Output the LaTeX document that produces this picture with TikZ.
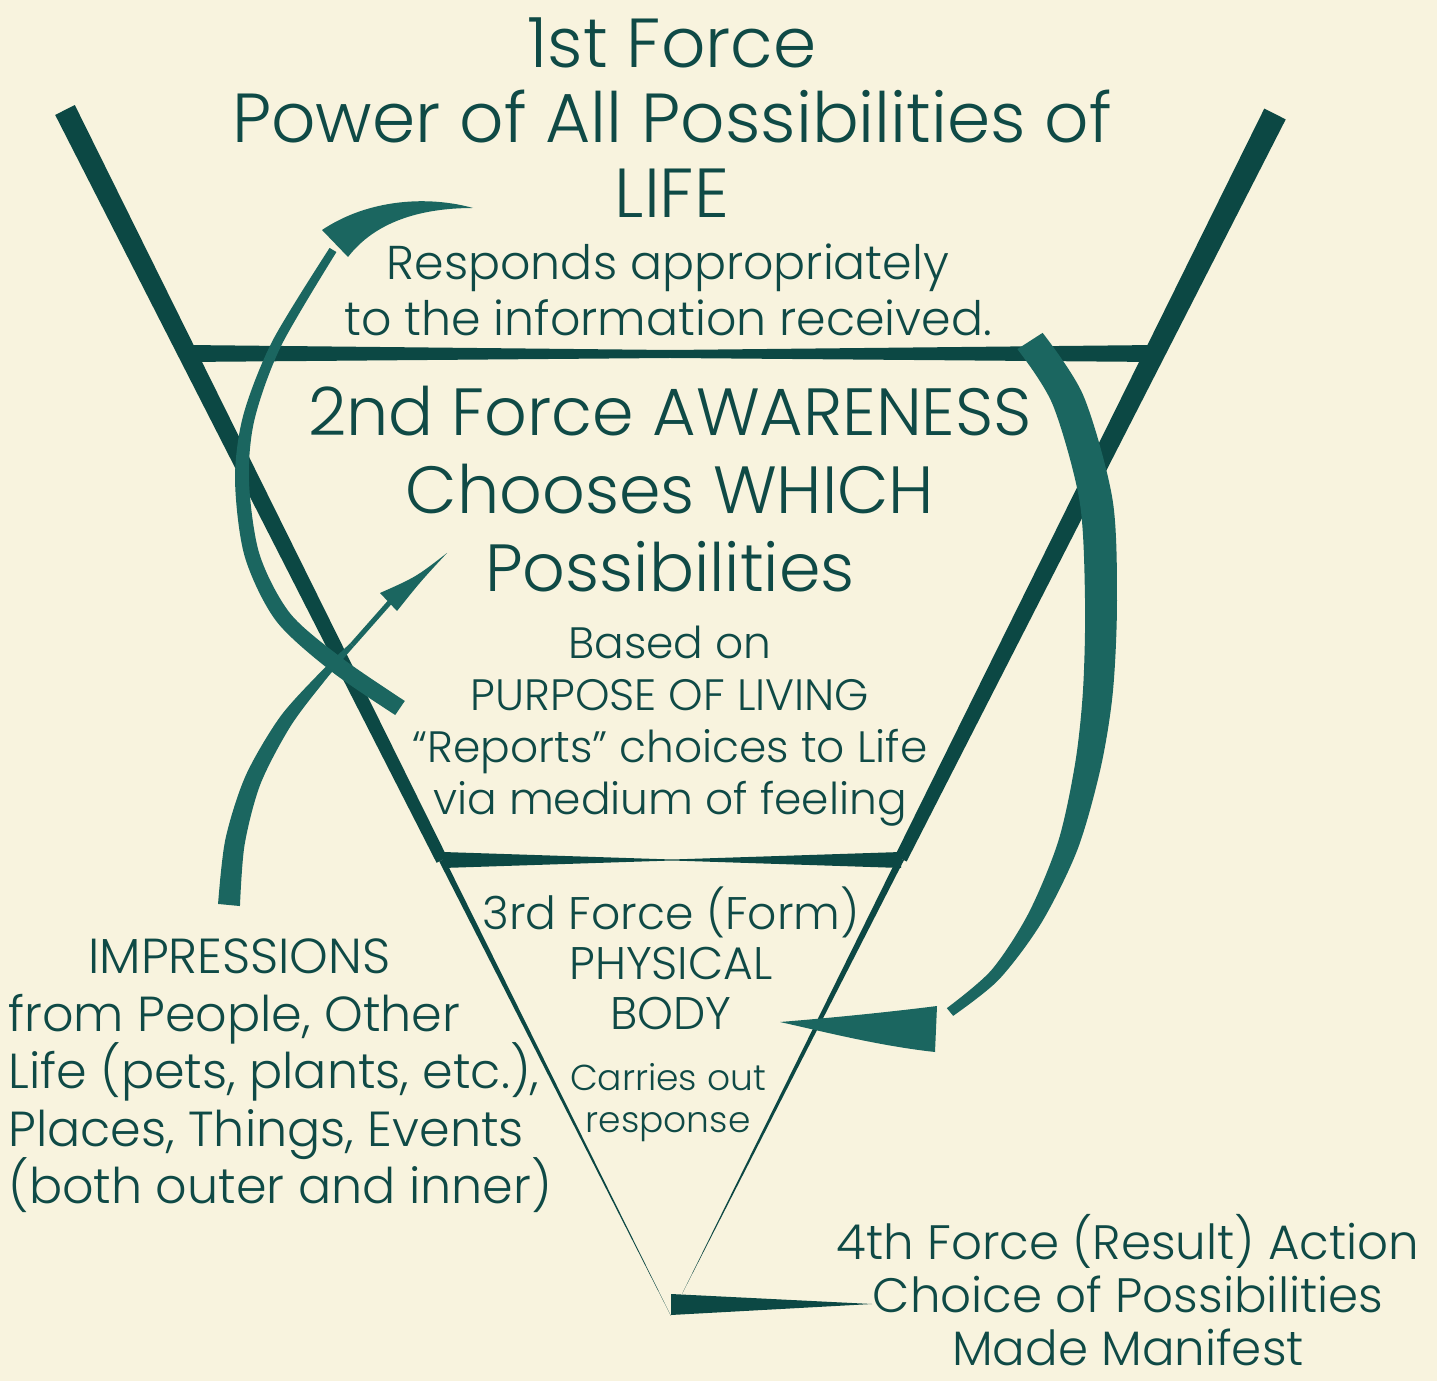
\documentclass[tikz,border=0pt]{standalone}
\usepackage{fontspec}
\setmainfont{Poppins}[UprightFont=* Light]
\usetikzlibrary{calc}
\definecolor{cdark}{HTML}{0C4844}
\definecolor{cband}{HTML}{1B6660}
\definecolor{ctext}{HTML}{0F4A46}
\definecolor{cpaper}{HTML}{F8F3DE}
\lineskiplimit=-20pt
\tikzset{
  arm/.style={fill=cdark},
  band/.style={fill=cband},
  lbl/.style={text=ctext, align=center, inner sep=0pt},
  sz/.style 2 args={lbl, font=\fontsize{#1pt}{#2pt}\selectfont},
}

\begin{document}
\begin{tikzpicture}[x=0.02cm, y=-0.02cm]
  \useasboundingbox (0,0) rectangle (1437,1381);
  \fill[cpaper] (0,0) rectangle (1437,1381);
  % the V and its bars
  \coordinate (ltop) at (65,110);
  \coordinate (lapex) at (671,1316);
  \coordinate (rtop) at (1275,114);
  \coordinate (rapex) at (682,1294);
  \coordinate (lmid) at ($(ltop)!0.622!(lapex)$);
  \coordinate (rmid) at ($(rtop)!0.631!(rapex)$);
  \fill[arm] ($(ltop)!0.22cm!90:(lapex)$) -- ($(lmid)!0.12cm!90:(lapex)$) -- ($(lmid)!0.12cm!-90:(lapex)$) -- ($(ltop)!0.22cm!-90:(lapex)$) -- cycle;
  \fill[arm] ($(lmid)!0.06cm!90:(lapex)$) -- (lapex) -- ($(lmid)!0.06cm!-90:(lapex)$) -- cycle;
  \fill[arm] ($(rtop)!0.24cm!90:(rapex)$) -- ($(rmid)!0.13cm!90:(rapex)$) -- ($(rmid)!0.13cm!-90:(rapex)$) -- ($(rtop)!0.24cm!-90:(rapex)$) -- cycle;
  \fill[arm] ($(rmid)!0.07cm!90:(rapex)$) -- (rapex) -- ($(rmid)!0.07cm!-90:(rapex)$) -- cycle;
  \fill[arm] (186,345) -- (670,350) -- (1157,345) -- (1157,362) -- (670,358) -- (186,362) -- cycle;
  \fill[arm] (443,852) -- (672,859.5) -- (901,852) -- (901,868) -- (672,860.5) -- (443,868) -- cycle;
  \fill[arm] (671,1294) -- (872,1304) -- (671,1315) -- cycle;

  % impressions arrow
  \coordinate (s0) at (229,905);
  \coordinate (s1) at (235,842);
  \coordinate (s2) at (253,780);
  \coordinate (s3) at (285,722);
  \coordinate (s4) at (322,677);
  \coordinate (s5) at (352,645);
  \coordinate (shead) at (390,602);
  \fill[band] plot[smooth] coordinates {($(s0)!0.22cm!90:(s1)$) ($(s1)!0.20cm!90:(s2)$) ($(s2)!0.17cm!90:(s3)$) ($(s3)!0.14cm!90:(s4)$) ($(s4)!0.09cm!90:(s5)$) ($(s5)!0.05cm!-90:(s4)$)}
    -- plot[smooth] coordinates {($(s5)!0.05cm!90:(s4)$) ($(s4)!0.09cm!-90:(s5)$) ($(s3)!0.14cm!-90:(s4)$) ($(s2)!0.17cm!-90:(s3)$) ($(s1)!0.20cm!-90:(s2)$) ($(s0)!0.22cm!-90:(s1)$)} -- cycle;
  \draw[cband, line width=0.1cm] (s5) -- (shead);
  \fill[band] (380,593) .. controls (416,577) .. (447,553) .. controls (421,581) .. (397,611) -- cycle;

  % responds arc
  \coordinate (c0) at (400,708);
  \coordinate (c1) at (337,665);
  \coordinate (c2) at (283,617);
  \coordinate (c3) at (252,555);
  \coordinate (c4) at (242,480);
  \coordinate (c5) at (249,417);
  \coordinate (c6) at (277,343);
  \coordinate (c7) at (333,250);
  \fill[band] plot[smooth] coordinates {($(c0)!0.17cm!90:(c1)$) ($(c1)!0.17cm!90:(c2)$) ($(c2)!0.16cm!90:(c3)$) ($(c3)!0.15cm!90:(c4)$) ($(c4)!0.14cm!90:(c5)$) ($(c5)!0.12cm!90:(c6)$) ($(c6)!0.10cm!90:(c7)$) ($(c7)!0.08cm!-90:(c6)$)}
    -- plot[smooth] coordinates {($(c7)!0.08cm!90:(c6)$) ($(c6)!0.10cm!-90:(c7)$) ($(c5)!0.12cm!-90:(c6)$) ($(c4)!0.14cm!-90:(c5)$) ($(c3)!0.15cm!-90:(c4)$) ($(c2)!0.16cm!-90:(c3)$) ($(c1)!0.17cm!-90:(c2)$) ($(c0)!0.17cm!-90:(c1)$)} -- cycle;
  \fill[band] (322,230) .. controls (370,198) and (430,196) .. (473,208) .. controls (420,208) and (375,222) .. (348,257) -- cycle;

  % result arc
  \coordinate (r0) at (1030,341);
  \coordinate (r1) at (1068,400);
  \coordinate (r2) at (1096,500);
  \coordinate (r3) at (1101,600);
  \coordinate (r4) at (1098,690);
  \coordinate (r5) at (1088,765);
  \coordinate (r6) at (1068,845);
  \coordinate (r7) at (1035,918);
  \coordinate (r8) at (995,975);
  \coordinate (r9) at (950,1012);
  \fill[band] plot[smooth] coordinates {($(r0)!0.30cm!90:(r1)$) ($(r1)!0.32cm!90:(r2)$) ($(r2)!0.33cm!90:(r3)$) ($(r3)!0.32cm!90:(r4)$) ($(r4)!0.30cm!90:(r5)$) ($(r5)!0.26cm!90:(r6)$) ($(r6)!0.21cm!90:(r7)$) ($(r7)!0.16cm!90:(r8)$) ($(r8)!0.12cm!90:(r9)$) ($(r9)!0.10cm!-90:(r8)$)}
    -- plot[smooth] coordinates {($(r9)!0.10cm!90:(r8)$) ($(r8)!0.12cm!-90:(r9)$) ($(r7)!0.16cm!-90:(r8)$) ($(r6)!0.21cm!-90:(r7)$) ($(r5)!0.26cm!-90:(r6)$) ($(r4)!0.30cm!-90:(r5)$) ($(r3)!0.32cm!-90:(r4)$) ($(r2)!0.33cm!-90:(r3)$) ($(r1)!0.32cm!-90:(r2)$) ($(r0)!0.30cm!-90:(r1)$)} -- cycle;
  \fill[band] (937,1006) -- (935,1052) .. controls (880,1046) and (825,1032) .. (780,1022) .. controls (830,1018) and (890,1012) .. cycle;

  % texts
  \node[sz={39.5}{42.7}] (force1) at (672,118) {1st Force\\Power of All Possibilities of\\LIFE};
  \node[sz={27}{31.9}] (responds) at (668,290) {Responds appropriately\\to the information received.};
  \node[sz={38}{44.4}] (force2) at (670,489) {2nd Force AWARENESS\\Chooses WHICH\\Possibilities};
  \node[sz={25}{29.6}] (purpose) at (670,726) {Based on\\PURPOSE OF LIVING\\“Reports” choices to Life\\via medium of feeling};
  \node[sz={26}{28.5}] (force3) at (671,958) {3rd Force (Form)\\PHYSICAL\\BODY};
  \node[sz={20.5}{23.9}] (carries) at (668,1103) {Carries out\\response};
  \node[sz={28}{32.7}, align=left, anchor=west] (impressions) at (8,1076) {\hspace*{1.6cm}IMPRESSIONS\\from People, Other\\Life (pets, plants, etc.),\\Places, Things, Events\\(both outer and inner)};
  \node[sz={27.5}{30}] (force4) at (1128,1290) {4th Force (Result) Action\\Choice of Possibilities\\Made Manifest};
\end{tikzpicture}
\end{document}
